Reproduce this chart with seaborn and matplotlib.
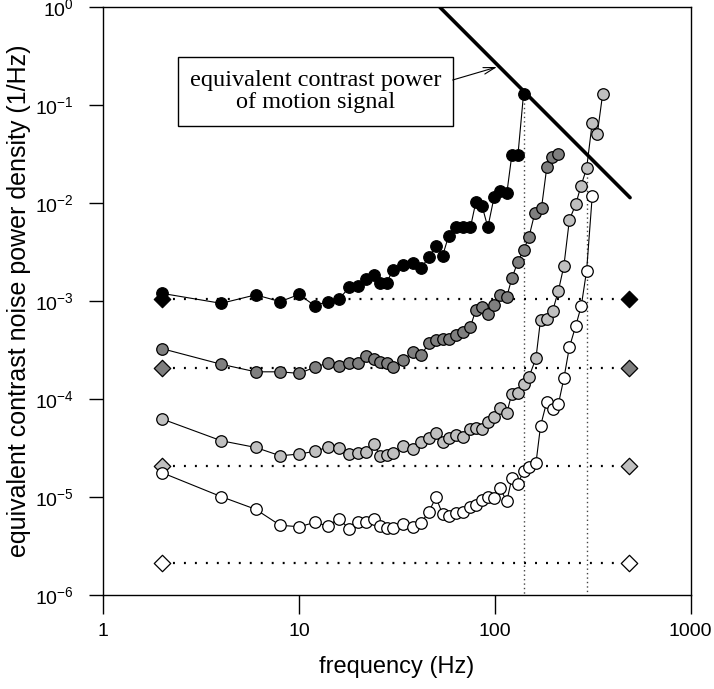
import matplotlib
matplotlib.use("Agg")
import matplotlib.pyplot as plt
import matplotlib.ticker as mticker
from matplotlib.patches import Rectangle
import seaborn as sns
import pandas as pd

# ---------------- data ----------------
freq_black = [2, 4, 6, 8, 10, 12, 14, 16, 18, 20, 22, 24, 26, 28, 30, 34, 38, 42, 46, 50,
              54, 58, 63, 69, 75, 80, 86, 92, 99, 106, 115, 122, 131, 140]
noise_black = [1.20e-3, 9.5e-4, 1.16e-3, 9.9e-4, 1.17e-3, 9.0e-4, 9.9e-4, 1.05e-3, 1.38e-3, 1.43e-3,
               1.67e-3, 1.85e-3, 1.52e-3, 1.52e-3, 2.08e-3, 2.34e-3, 2.43e-3, 2.17e-3, 2.84e-3, 3.66e-3,
               2.89e-3, 4.62e-3, 5.68e-3, 5.68e-3, 5.68e-3, 1.04e-2, 9.36e-3, 5.68e-3, 1.15e-2, 1.34e-2,
               1.26e-2, 3.10e-2, 3.07e-2, 0.130]

freq_dark = [2, 4, 6, 8, 10, 12, 14, 16, 18, 20, 22, 24, 26, 28, 30, 34, 38, 42, 46, 50,
             54, 58, 63, 69, 75, 80, 86, 92, 99, 106, 115, 122, 131, 140, 149, 160, 173, 184, 195, 211]
noise_dark = [3.27e-4, 2.27e-4, 1.90e-4, 1.90e-4, 1.83e-4, 2.11e-4, 2.34e-4, 2.18e-4, 2.34e-4, 2.32e-4,
              2.73e-4, 2.58e-4, 2.41e-4, 2.34e-4, 2.13e-4, 2.48e-4, 3.05e-4, 2.82e-4, 3.71e-4, 4.01e-4,
              4.08e-4, 4.08e-4, 4.51e-4, 4.88e-4, 5.48e-4, 8.22e-4, 8.82e-4, 7.31e-4, 9.24e-4, 1.156e-3,
              1.11e-3, 1.71e-3, 2.53e-3, 3.33e-3, 4.47e-3, 8.0e-3, 9.0e-3, 2.32e-2, 2.94e-2, 3.18e-2]

freq_light = [2, 4, 6, 8, 10, 12, 14, 16, 18, 20, 22, 24, 26, 28, 30, 34, 38, 42, 46, 50,
              54, 58, 63, 69, 75, 80, 86, 92, 99, 106, 115, 122, 131, 140, 149, 162, 171, 184, 197, 211,
              225, 240, 259, 275, 294, 314, 333, 355]
noise_light = [6.26e-5, 3.76e-5, 3.21e-5, 2.64e-5, 2.75e-5, 2.93e-5, 3.23e-5, 3.18e-5, 2.76e-5, 2.83e-5,
               2.88e-5, 3.46e-5, 2.64e-5, 2.71e-5, 2.82e-5, 3.32e-5, 3.07e-5, 3.67e-5, 3.98e-5, 4.54e-5,
               3.67e-5, 3.98e-5, 4.30e-5, 4.07e-5, 4.92e-5, 5.03e-5, 4.97e-5, 5.81e-5, 6.52e-5, 8.05e-5,
               7.21e-5, 1.14e-4, 1.16e-4, 1.41e-4, 1.67e-4, 2.61e-4, 6.48e-4, 6.53e-4, 7.90e-4, 1.28e-3,
               2.29e-3, 6.74e-3, 9.81e-3, 1.50e-2, 2.27e-2, 6.63e-2, 5.05e-2, 0.130]

freq_white = [2, 4, 6, 8, 10, 12, 14, 16, 18, 20, 22, 24, 26, 28, 30, 34, 38, 42, 46, 50,
              54, 58, 63, 69, 75, 80, 86, 92, 99, 106, 115, 122, 131, 140, 149, 162, 171, 184, 197, 211,
              225, 240, 259, 276, 294, 314]
noise_white = [1.77e-5, 1.01e-5, 7.50e-6, 5.15e-6, 4.98e-6, 5.50e-6, 5.09e-6, 6.04e-6, 4.72e-6, 5.50e-6,
               5.56e-6, 5.94e-6, 5.09e-6, 4.89e-6, 4.89e-6, 5.36e-6, 4.98e-6, 5.47e-6, 7.09e-6, 9.94e-6,
               6.71e-6, 6.45e-6, 6.83e-6, 7.09e-6, 7.97e-6, 8.30e-6, 9.33e-6, 9.94e-6, 9.67e-6, 1.23e-5,
               9.07e-6, 1.55e-5, 1.36e-5, 1.84e-5, 2.04e-5, 2.21e-5, 5.31e-5, 9.41e-5, 7.87e-5, 8.91e-5,
               1.63e-4, 3.38e-4, 5.64e-4, 8.92e-4, 2.05e-3, 1.18e-2]

# internal noise levels (diamonds) at both ends
diamond_freq = [2, 485]
diamond_levels = [1.05e-3, 2.1e-4, 2.1e-5, 2.1e-6]

# equivalent contrast power of motion signal (thick line)
signal_freq = [52.4, 490]
signal_power = [1.0, 0.0114]

# cut-off frequencies (vertical dotted lines) and their top values
cutoff_freq = [140, 294]
cutoff_top = [0.130, 2.27e-2]

series_colors = ["#000000", "#7f7f7f", "#c0c0c0", "#ffffff"]
x_ticks = [1, 10, 100, 1000]
x_ticklabels = ["1", "10", "100", "1000"]
y_exponents = [0, -1, -2, -3, -4, -5, -6]

# ---------------- plot ----------------
sns.set_theme(style="white")
plt.rcParams["font.family"] = ["Liberation Sans", "DejaVu Sans"]
plt.rcParams["mathtext.fontset"] = "custom"
plt.rcParams["mathtext.rm"] = "Liberation Sans"
plt.rcParams["mathtext.it"] = "Liberation Sans"
plt.rcParams["lines.scale_dashes"] = False

fig = plt.figure(figsize=(7.14, 6.89), dpi=100)
ax = fig.add_axes([0.1447, 0.1364, 0.8227, 0.8530])
ax.set_xscale("log")
ax.set_yscale("log")

# horizontal dotted lines + diamonds
for lvl, col in zip(diamond_levels, series_colors):
    dfd = pd.DataFrame({"f": diamond_freq, "v": [lvl, lvl]})
    sns.lineplot(data=dfd, x="f", y="v", ax=ax, color="black", lw=1.6,
                 linestyle=(0, (1.4, 6.5)), estimator=None, sort=False, zorder=2)
    sns.scatterplot(data=dfd, x="f", y="v", ax=ax, marker="D", s=70, color=col,
                    edgecolor="black", linewidth=0.9, zorder=3)

# vertical dotted lines
for fc, top in zip(cutoff_freq, cutoff_top):
    dfv = pd.DataFrame({"f": [fc, fc], "v": [top, 1e-6]})
    sns.lineplot(data=dfv, x="f", y="v", ax=ax, color="#444444", lw=1.0,
                 linestyle=(0, (1.0, 2.2)), estimator=None, sort=False, zorder=1)

# signal power line
dfs = pd.DataFrame({"f": signal_freq, "v": signal_power})
sns.lineplot(data=dfs, x="f", y="v", ax=ax, color="black", lw=2.6,
             estimator=None, sort=False, zorder=5)

# data series
series = [(freq_black, noise_black), (freq_dark, noise_dark),
          (freq_light, noise_light), (freq_white, noise_white)]
for (fr, nv), col in zip(series, series_colors):
    dfn = pd.DataFrame({"f": fr, "v": nv})
    sns.lineplot(data=dfn, x="f", y="v", ax=ax, color="black", lw=0.8,
                 estimator=None, sort=False, zorder=4, marker="o", markersize=8.3,
                 markerfacecolor=col, markeredgecolor="black", markeredgewidth=0.9)

ax.set_xlim(1, 1000)
ax.set_ylim(1e-6, 1)
ax.set_xticks(x_ticks)
ax.set_xticklabels(x_ticklabels)
ax.xaxis.set_minor_locator(mticker.NullLocator())
ax.set_yticks([10.0 ** e for e in y_exponents])
ax.set_yticklabels([r"$\mathregular{10^{%d}}$" % e for e in y_exponents])
ax.yaxis.set_minor_locator(mticker.NullLocator())
ax.tick_params(axis="x", which="major", direction="out", length=14, width=1.0,
               labelsize=14, pad=6, bottom=True, colors="black")
ax.tick_params(axis="y", which="major", direction="out", length=10, width=1.0,
               labelsize=14, pad=11, left=True, colors="black")
for sp in ax.spines.values():
    sp.set_color("black")
    sp.set_linewidth(1.0)

ax.set_xlabel("frequency (Hz)", fontsize=17, labelpad=12, color="black")
ax.set_ylabel("equivalent contrast noise power density (1/Hz)", fontsize=18,
              labelpad=3, color="black")

# annotation box
ax.add_patch(Rectangle((0.1277, 0.7985), 0.4671, 0.1164, transform=ax.transAxes,
                       facecolor="white", edgecolor="black", lw=1.0, zorder=6))
ax.text(0.3613, 0.8567, "equivalent contrast power\nof motion signal", transform=ax.transAxes,
        ha="center", va="center", fontsize=17.5, family=["Liberation Serif", "DejaVu Serif"],
        linespacing=1.08, zorder=7, color="black")
ax.annotate("", xy=(102.5, 0.246), xycoords="data",
            xytext=(0.5948, 0.8763), textcoords="axes fraction",
            arrowprops=dict(arrowstyle="->,head_length=0.7,head_width=0.2", lw=0.8,
                            color="black", shrinkA=0, shrinkB=0), zorder=7)

fig.savefig("out.png", dpi=100, facecolor="white")
